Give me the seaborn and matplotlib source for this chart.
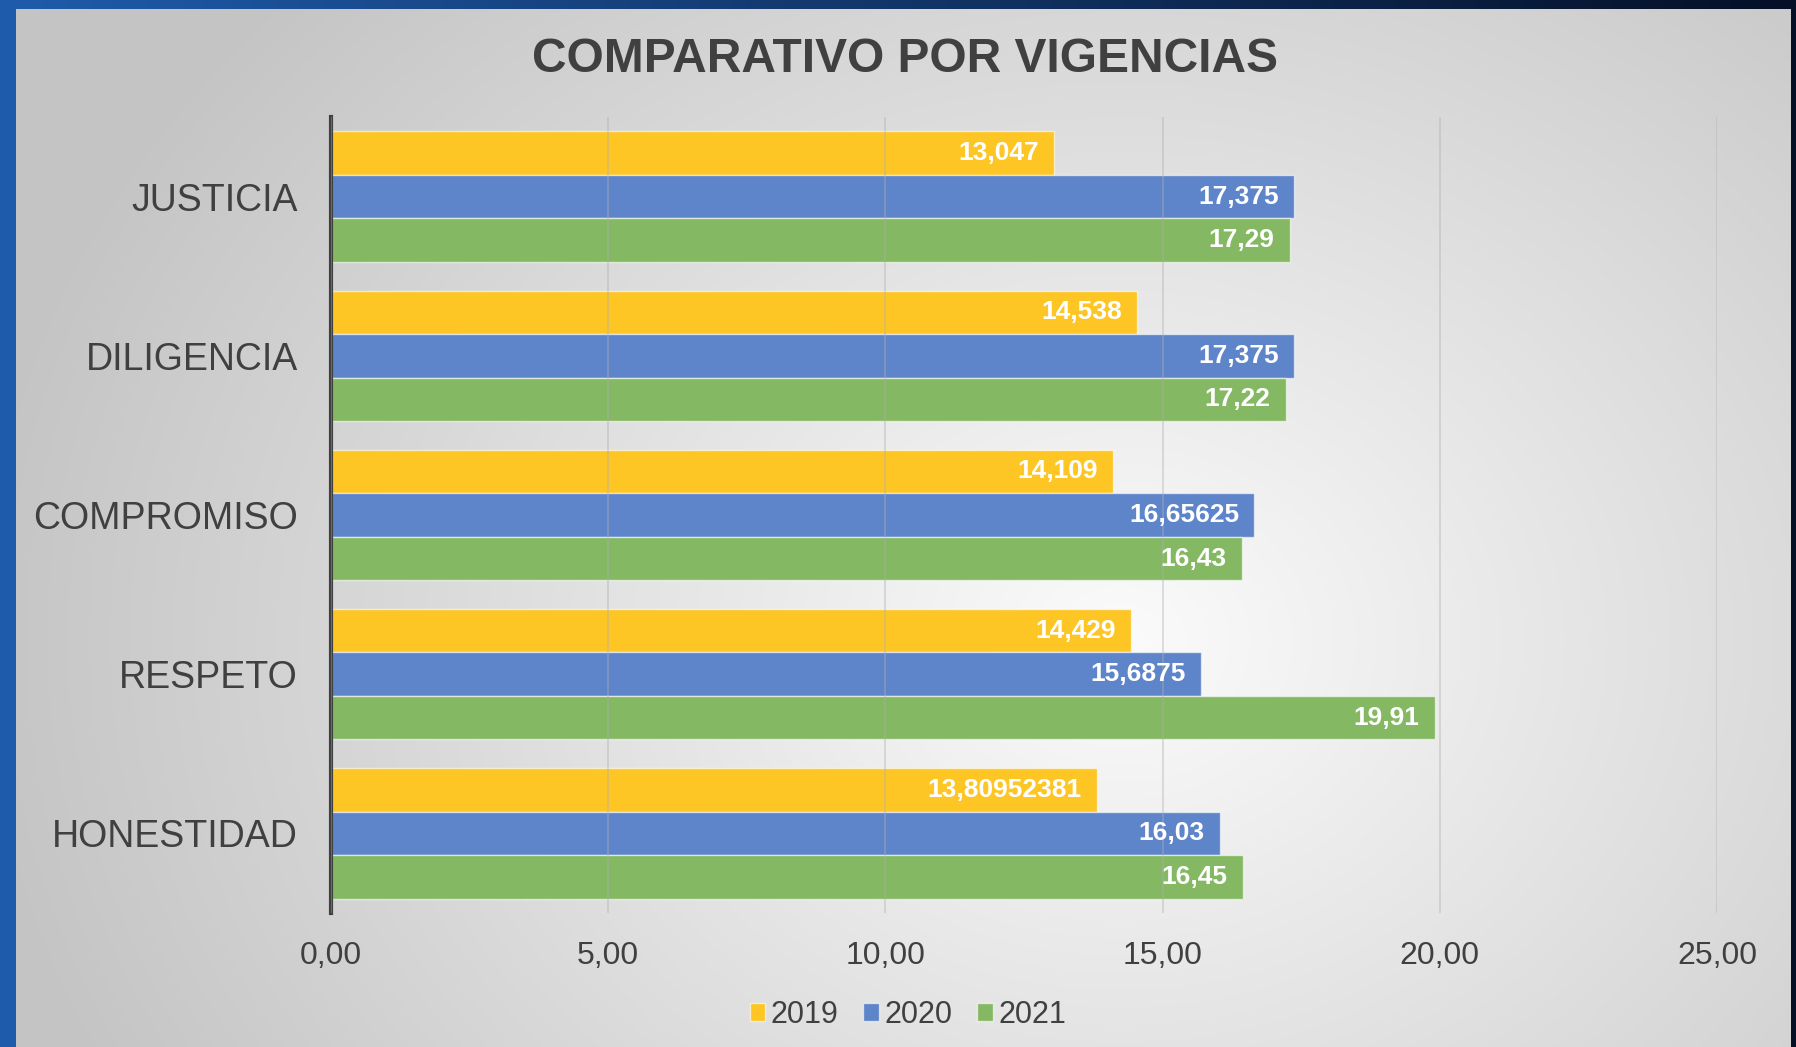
import numpy as np
import pandas as pd
import matplotlib
matplotlib.use("Agg")
import matplotlib.pyplot as plt
from matplotlib.ticker import FuncFormatter
import seaborn as sns

# datos
categorias = ["JUSTICIA", "DILIGENCIA", "COMPROMISO", "RESPETO", "HONESTIDAD"]
anios = ["2019", "2020", "2021"]
valores_2019 = [13.047, 14.538, 14.109, 14.429, 13.80952381]
valores_2020 = [17.375, 17.375, 16.65625, 15.6875, 16.03]
valores_2021 = [17.29, 17.22, 16.43, 19.91, 16.45]
etiquetas_2019 = ["13,047", "14,538", "14,109", "14,429", "13,80952381"]
etiquetas_2020 = ["17,375", "17,375", "16,65625", "15,6875", "16,03"]
etiquetas_2021 = ["17,29", "17,22", "16,43", "19,91", "16,45"]

colores = ["#FDC625", "#5E84CA", "#84B862"]
gris_texto = "#404040"

sns.set_style("white")
plt.rcParams["font.family"] = ["Liberation Sans", "DejaVu Sans"]

df = pd.DataFrame({
    "Categoria": categorias * 3,
    "Año": [anios[0]] * 5 + [anios[1]] * 5 + [anios[2]] * 5,
    "Valor": valores_2019 + valores_2020 + valores_2021,
})

W, H = 1796, 1047
fig = plt.figure(figsize=(W / 100, H / 100), dpi=100)

# fondo: degradado radial gris + marco azul
yy, xx = np.mgrid[0:H, 0:W]
r = np.sqrt(((xx - 1120) / 1150) ** 2 + ((yy - 640) / 950) ** 2)
r = np.clip(r, 0, 1)
gris = 0.985 - 0.215 * r
img = np.dstack([gris, gris, gris])
t = xx[:9, :] / W
azul = np.array([0.12, 0.36, 0.67])
navy = np.array([0.02, 0.06, 0.15])
img[:9, :, :] = (1 - t[..., None]) * azul + t[..., None] * navy
img[:, :16, :] = azul
img[:, W - 5:, :] = navy
bg = fig.add_axes([0, 0, 1, 1])
bg.imshow(img, aspect="auto", interpolation="bilinear")
bg.axis("off")

ax = fig.add_axes([331 / W, 1 - 913 / H, 1386 / W, 796 / H])
ax.set_facecolor("none")
sns.barplot(data=df, y="Categoria", x="Valor", hue="Año", orient="h",
            palette=colores, width=0.82, edgecolor=(1, 1, 1, 0.6),
            linewidth=1, saturation=1, ax=ax, zorder=2)

for cont, labs in zip(ax.containers, [etiquetas_2019, etiquetas_2020, etiquetas_2021]):
    txts = ax.bar_label(cont, labels=labs, padding=-11, color="white",
                        fontsize=19, fontweight="bold")
    for tx in txts:
        tx.set_ha("right")

ax.set_xlim(0, 25)
ax.set_ylim(4.5, -0.5)
ax.set_xticks([0, 5, 10, 15, 20, 25])
ax.xaxis.set_major_formatter(FuncFormatter(lambda v, p: f"{v:.2f}".replace(".", ",")))
ax.grid(axis="x", color="#b0b0b0", linewidth=1.1, alpha=0.5, zorder=3)
ax.set_axisbelow(False)
for s in ["top", "right", "bottom"]:
    ax.spines[s].set_visible(False)
ax.spines["left"].set_color(gris_texto)
ax.spines["left"].set_linewidth(3)
ax.tick_params(axis="x", length=0, pad=20, labelsize=23, labelcolor=gris_texto)
ax.tick_params(axis="y", length=0, pad=24, labelsize=27, labelcolor=gris_texto)
ax.set_xlabel("")
ax.set_ylabel("")

handles, labels = ax.get_legend_handles_labels()
ax.legend_.remove()
leg = ax.legend(handles, labels, loc="center", bbox_to_anchor=(577 / 1386, -102 / 796),
                ncol=3, frameon=False, fontsize=22, handlelength=0.52, handleheight=0.52,
                handletextpad=0.18, columnspacing=0.8)
for tx in leg.get_texts():
    tx.set_color(gris_texto)

fig.text(905 / W, 1 - 60 / H, "COMPARATIVO POR VIGENCIAS", ha="center", va="center",
         fontsize=34.5, fontweight="bold", color=gris_texto)

fig.savefig("out.png", dpi=100)
